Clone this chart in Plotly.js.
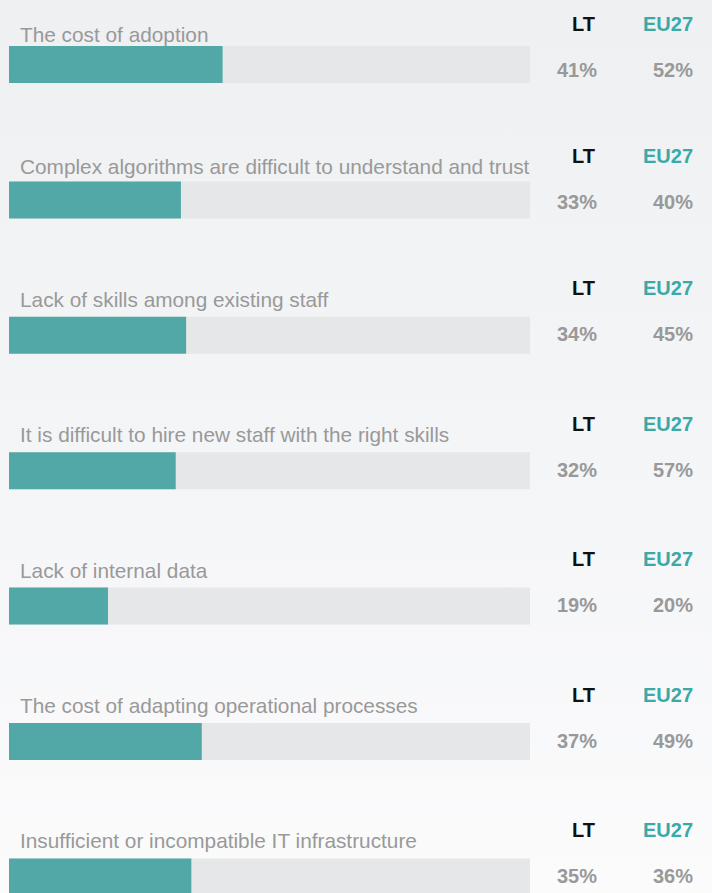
<!DOCTYPE html>
<html>
<head>
<meta charset="utf-8">
<script src="https://cdn.plot.ly/plotly-3.0.1.min.js"></script>
<style>
  html, body { margin: 0; padding: 0; }
  body { width: 712px; height: 893px; overflow: hidden;
         background: linear-gradient(to bottom, #eef0f2 0%, #f4f5f7 50%, #fbfbfc 100%); }
  #chart { width: 712px; height: 893px; }
</style>
</head>
<body>
<div id="chart"></div>
<script>
// ---- data ----
const categories = [
  "The cost of adoption",
  "Complex algorithms are difficult to understand and trust",
  "Lack of skills among existing staff",
  "It is difficult to hire new staff with the right skills",
  "Lack of internal data",
  "The cost of adapting operational processes",
  "Insufficient or incompatible IT infrastructure"
];
const ltValues   = [41, 33, 34, 32, 19, 37, 35];
const eu27Values = [52, 40, 45, 57, 20, 49, 36];
const fullScale  = [100, 100, 100, 100, 100, 100, 100];
const headerLT   = "LT";
const headerEU   = "EU27";

// ---- style ----
const W = 712, H = 893;
const FONT = 'Liberation Sans, Arial, Helvetica, sans-serif';
const TEAL = '#52a8a7';
const TEAL_TEXT = '#3aa9a8';
const TRACK = '#e6e7e8';
const GREY_TEXT = '#999999';
const rowNudge = [6, 3, 0, 0, 0, 0, 0]; // small per-row text nudge (px, downward)

const traces = [
  { type: 'bar', orientation: 'h', y: categories, x: fullScale,
    marker: { color: TRACK }, width: 0.273, hoverinfo: 'skip' },
  { type: 'bar', orientation: 'h', y: categories, x: ltValues,
    marker: { color: TEAL }, width: 0.273, hoverinfo: 'skip' }
];

const annotations = [];
categories.forEach((c, i) => {
  const n = rowNudge[i];
  annotations.push({ xref: 'paper', yref: 'y', x: 18 / W, y: c, xanchor: 'left', yanchor: 'middle',
    yshift: 36 - n, text: c, showarrow: false, font: { family: FONT, size: 20.8, color: GREY_TEXT } });
  annotations.push({ xref: 'paper', yref: 'y', x: 597 / W, y: c, xanchor: 'right', yanchor: 'middle',
    yshift: 47 - n, text: '<b>' + headerLT + '</b>', showarrow: false, font: { family: FONT, size: 20, color: '#111111' } });
  annotations.push({ xref: 'paper', yref: 'y', x: 695 / W, y: c, xanchor: 'right', yanchor: 'middle',
    yshift: 47 - n, text: '<b>' + headerEU + '</b>', showarrow: false, font: { family: FONT, size: 20, color: TEAL_TEXT } });
  annotations.push({ xref: 'paper', yref: 'y', x: 599 / W, y: c, xanchor: 'right', yanchor: 'middle',
    yshift: 1 - n, text: '<b>' + ltValues[i] + '%</b>', showarrow: false, font: { family: FONT, size: 20, color: GREY_TEXT } });
  annotations.push({ xref: 'paper', yref: 'y', x: 695 / W, y: c, xanchor: 'right', yanchor: 'middle',
    yshift: 1 - n, text: '<b>' + eu27Values[i] + '%</b>', showarrow: false, font: { family: FONT, size: 20, color: GREY_TEXT } });
});

const rowPitch = 135.4, firstCenter = 64.5;
const rTop = -firstCenter / rowPitch;
const rBottom = rTop + H / rowPitch;

const layout = {
  width: W, height: H,
  margin: { l: 0, r: 0, t: 0, b: 0, pad: 0 },
  paper_bgcolor: 'rgba(0,0,0,0)',
  plot_bgcolor: 'rgba(0,0,0,0)',
  barmode: 'overlay',
  showlegend: false,
  hovermode: false,
  xaxis: { domain: [9 / W, 530 / W], range: [0, 100], visible: false, fixedrange: true },
  yaxis: { type: 'category', range: [rBottom, rTop], visible: false, fixedrange: true },
  annotations: annotations,
  font: { family: FONT }
};

Plotly.newPlot('chart', traces, layout, { displayModeBar: false, staticPlot: true });
</script>
</body>
</html>
